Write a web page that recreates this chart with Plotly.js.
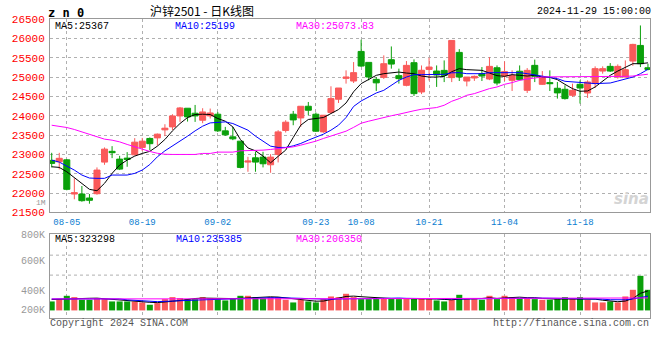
<!DOCTYPE html>
<html><head><meta charset="utf-8">
<script src="https://cdn.plot.ly/plotly-3.0.1.min.js"></script>
<style>html,body{margin:0;padding:0;background:#fff}#c{width:660px;height:360px}</style>
</head><body><div id="c"></div>
<script>
// ---- data ----
const dates = ['08-01','08-02','08-05','08-06','08-07','08-08','08-09','08-12','08-13','08-14','08-15','08-16','08-19','08-20','08-21','08-22','08-23','08-26','08-27','08-28','08-29','08-30',
'09-02','09-03','09-04','09-05','09-06','09-09','09-10','09-11','09-12','09-13','09-18','09-19','09-20','09-23','09-24','09-25','09-26','09-27','09-30',
'10-08','10-09','10-10','10-11','10-14','10-15','10-16','10-17','10-18','10-21','10-22','10-23','10-24','10-25','10-28','10-29','10-30','10-31',
'11-01','11-04','11-05','11-06','11-07','11-08','11-11','11-12','11-13','11-14','11-15','11-18','11-19','11-20','11-21','11-22','11-25','11-26','11-27','11-28','11-29'];

const open  = [22846,22810,22861,21977,21977,21874,21985,22802,23080,22879,22905,22990,23181,23413,23428,23635,23712,23995,24194,24065,23884,23995,24039,23609,23454,23343,22802,22913,22931,22733,23000,23619,24039,23944,24245,24039,23583,24083,24426,24966,24897,25662,25379,24940,24992,25448,25036,24786,25371,24614,25198,25155,25172,24985,25637,24897,24975,25087,24949,25240,25026,24915,25150,24657,25302,24812,24856,24710,24683,24528,24812,24588,24830,25155,25276,25000,25000,25413,25817,25240];
const high  = [23042,23042,22882,22382,22184,21977,22665,23181,23214,22964,23060,23421,23428,23440,23540,23781,24039,24227,24194,24279,24194,24186,24098,23712,23712,23343,22939,23068,23068,23008,23627,23884,24124,24245,24356,24083,24013,24761,24717,25173,25387,25964,25379,25000,25560,25791,25217,25413,25456,25300,25500,25300,25430,25946,25722,25000,25040,25258,25516,25300,25405,25173,25300,25232,25450,25155,25173,24872,24786,24830,24915,24915,25276,25276,25361,25327,25430,25860,26333,25345];
const low   = [22665,22614,22073,21841,21779,21727,21959,22732,22905,22596,22681,22975,23086,23110,23230,23472,23627,23841,23850,23841,23807,23928,23580,23480,23369,22640,22552,22552,22665,22526,22794,23567,23755,23712,24013,23580,23560,24057,24330,24830,24846,25258,24915,24640,24950,25217,24830,24760,24512,24560,24910,24745,24870,24870,24897,24760,24900,24897,24920,24786,24897,24640,24915,24588,24870,24800,24640,24443,24418,24485,24315,24459,24720,25087,25130,24960,24990,25290,25258,25173];
const close = [22769,22900,22098,22011,21805,21815,22596,23137,23045,22621,22872,23317,23343,23278,23524,23678,23995,24201,23970,23995,24098,24072,23609,23506,23403,22665,22828,22802,22759,22931,23583,23833,23892,24245,24142,23601,24013,24443,24717,25000,25114,25284,25000,24850,25345,25335,24959,25302,24572,25175,25258,25052,25044,25946,25000,25000,25018,25026,25276,24846,25140,25044,24933,25173,25018,24985,24830,24590,24443,24657,24717,24872,25217,25217,25155,25276,25190,25843,25345,25198];

const ma5  = [22681,22665,22552,22408,22253,22098,22062,22253,22511,22725,22854,22957,23026,23080,23214,23387,23609,23799,23954,24031,24039,24031,23928,23859,23712,23387,23168,23093,22957,22784,22950,23111,23438,23756,23903,23928,23954,24057,24160,24330,24620,24830,24941,25044,25087,25113,25129,25103,25087,25026,25000,25000,25018,25138,25217,25191,25173,25173,25103,25036,25018,25062,25044,25026,25044,25000,24992,24933,24812,24701,24632,24640,24743,24897,25044,25155,25258,25345,25345,25367];
const ma10 = [22854,22802,22699,22596,22467,22390,22382,22382,22467,22467,22467,22511,22596,22740,22939,23093,23214,23351,23472,23609,23730,23815,23833,23841,23799,23712,23627,23472,23343,23214,23181,23181,23222,23284,23369,23438,23524,23627,23756,23954,24240,24382,24485,24588,24657,24786,24915,25000,25062,25062,25070,25070,25070,25110,25113,25087,25087,25087,25113,25113,25113,25113,25113,25087,25052,25026,25000,24959,24890,24872,24846,24846,24830,24830,24846,24897,24941,25000,25087,25199];
const ma30 = [23755,23730,23696,23645,23583,23524,23454,23395,23369,23325,23258,23196,23129,23077,23030,23005,23000,23000,23000,23000,23026,23026,23060,23060,23060,23094,23094,23103,23111,23129,23145,23163,23196,23240,23284,23343,23413,23472,23541,23601,23700,23807,23859,23910,23962,24000,24039,24090,24129,24168,24186,24212,24271,24374,24443,24529,24572,24640,24701,24743,24812,24856,24915,24949,24975,25000,25005,25005,25005,25005,25005,25005,25005,25005,25005,25010,25018,25026,25044,25073.83];

const volume = [148500,192500,242000,220000,176000,176000,203500,187000,148500,148500,148500,148500,132000,93500,121000,187000,220000,203500,187000,187000,220000,203500,187000,165000,203500,242000,242000,220000,203500,220000,220000,176000,132000,176000,148500,132000,187000,231000,220000,275000,220000,187000,187000,203500,203500,203500,187000,187000,203500,203500,187000,165000,148500,176000,258500,187000,187000,176000,242000,187000,242000,220000,203500,203500,187000,176000,176000,187000,220000,187000,220000,176000,132000,132000,148500,132000,231000,341000,572000,341000];
const volMa5  = [180000,185000,195000,200000,196000,201000,203000,192000,178000,173000,167000,156000,145000,134000,129000,136000,151000,165000,184000,197000,204000,200000,197000,193000,196000,200000,208000,215000,222000,225000,221000,208000,190000,185000,170000,153000,155000,175000,204000,231000,237000,227000,218000,204000,198000,197000,197000,197000,197000,197000,194000,189000,182000,176000,187000,187000,191000,197000,210000,198000,207000,213000,219000,211000,211000,198000,189000,186000,189000,189000,198000,198000,187000,169000,162000,144000,155000,197000,283000,323298];
const volMa10 = [190000,190000,190000,190000,190000,190000,190000,190000,190000,190000,175000,165000,158000,150000,145000,150000,158000,163000,170000,170000,175000,180000,185000,190000,197000,202000,205000,208000,210000,210000,210000,210000,205000,200000,195000,190000,185000,185000,190000,195000,195000,195000,195000,200000,205000,210000,205000,200000,197000,197000,195000,193000,189000,186000,190000,191000,190000,189000,190000,197000,197000,200000,203000,206000,204000,204000,202000,200000,198000,200000,203000,200000,192000,186000,177000,171000,176000,190000,218000,235385];
const volMa30 = [190000,190000,190000,190000,189000,189000,189000,188000,188000,187000,186000,185000,184000,183000,182000,182000,182000,182000,183000,183000,184000,185000,185000,186000,187000,188000,189000,190000,190000,191000,191000,191000,190000,190000,189000,189000,189000,190000,191000,192000,193000,193000,194000,194000,195000,195000,195000,195000,195000,196000,196000,196000,195000,195000,196000,196000,196000,196000,197000,197000,198000,198000,199000,199000,199000,199000,199000,199000,199000,200000,200000,200000,199000,198000,198000,197000,198000,200000,204000,206350];

const dateTicks  = ['08-05','08-19','09-02','09-23','10-08','10-21','11-04','11-18'];
const priceTicks = [21500,22000,22500,23000,23500,24000,24500,25000,25500,26000,26500];
const volTickText = ['800K','600K','400K','200K'];
const volTickVals = [1260600,825000,330000,11550];
const volGridVals = [914100,584100];

// ---- styling ----
const RED = '#fa5a5a', GREEN = '#0aa00a', GRID = '#b0b0b0', BORDER = '#999999';
const MONO = 'Liberation Mono, DejaVu Sans Mono, monospace';
const M = {l:50, r:10, t:18.5, b:41.7};
const W = 660, H = 360, PW = W - M.l - M.r, PH = H - M.t - M.b;
const px = v => (v - M.l) / PW;
const py = v => (H - M.b - v) / PH;

const volColors = close.map((c, i) => c >= open[i] ? RED : GREEN);

const traces = [
  {type:'candlestick', x:dates, open:open, high:high, low:low, close:close, xaxis:'x', yaxis:'y',
   increasing:{line:{color:RED, width:1}, fillcolor:RED},
   decreasing:{line:{color:GREEN, width:1}, fillcolor:GREEN},
   whiskerwidth:0, hoverinfo:'skip', showlegend:false},
  {type:'scatter', mode:'lines', x:dates, y:ma5, line:{color:'#000000', width:1}, xaxis:'x', yaxis:'y', hoverinfo:'skip', showlegend:false},
  {type:'scatter', mode:'lines', x:dates, y:ma10, line:{color:'#0000ff', width:1}, xaxis:'x', yaxis:'y', hoverinfo:'skip', showlegend:false},
  {type:'scatter', mode:'lines', x:dates, y:ma30, line:{color:'#ff00ff', width:1}, xaxis:'x', yaxis:'y', hoverinfo:'skip', showlegend:false},
  {type:'bar', x:dates, y:volume, marker:{color:volColors, line:{width:0}}, width:0.8, xaxis:'x2', yaxis:'y2', hoverinfo:'skip', showlegend:false},
  {type:'scatter', mode:'lines', x:dates, y:volMa5, line:{color:'#000000', width:1}, xaxis:'x2', yaxis:'y2', hoverinfo:'skip', showlegend:false},
  {type:'scatter', mode:'lines', x:dates, y:volMa10, line:{color:'#0000ff', width:1}, xaxis:'x2', yaxis:'y2', hoverinfo:'skip', showlegend:false},
  {type:'scatter', mode:'lines', x:dates, y:volMa30, line:{color:'#ff00ff', width:1}, xaxis:'x2', yaxis:'y2', hoverinfo:'skip', showlegend:false}
];

const xr = [-0.225, 79.27];
const priceDomTop = 1, priceDomBot = py(212.5), volDomTop = py(234.3);

const ann = (text, x, y, xa, color, size, extra) => Object.assign({
  text:text, xref:'paper', yref:'paper', x:px(x), y:py(y), xanchor:xa, yanchor:'middle',
  showarrow:false, font:{family:MONO, size:size, color:color}, borderpad:0
}, extra || {});

const layout = {
  width:W, height:H, margin:M, paper_bgcolor:'#ffffff', plot_bgcolor:'#ffffff',
  showlegend:false, boxgap:0.2, boxgroupgap:0, bargap:0.2,
  xaxis:{type:'category', range:xr, domain:[0,1], anchor:'y', rangeslider:{visible:false},
    tickmode:'array', tickvals:dateTicks, ticktext:dateTicks, ticks:'', ticklabelstandoff:1,
    tickfont:{family:MONO, size:9, color:'#0a7cd0'},
    showgrid:true, gridcolor:GRID, griddash:'dot', gridwidth:1,
    showline:true, mirror:true, linecolor:BORDER, linewidth:1, zeroline:false, fixedrange:true},
  yaxis:{range:[21500,26500], domain:[priceDomBot, priceDomTop], anchor:'x',
    tickmode:'array', tickvals:priceTicks, ticktext:priceTicks.map(String), ticks:'', ticklabelstandoff:2,
    tickfont:{family:MONO, size:11, color:'#ff0000'},
    showgrid:true, gridcolor:GRID, griddash:'dot', gridwidth:1,
    showline:true, mirror:true, linecolor:BORDER, linewidth:1, zeroline:false, fixedrange:true},
  xaxis2:{type:'category', range:xr, domain:[0,1], anchor:'y2', matches:'x',
    tickmode:'array', tickvals:dateTicks, showticklabels:false, ticks:'',
    showgrid:true, gridcolor:GRID, griddash:'dot', gridwidth:1,
    showline:true, mirror:true, linecolor:BORDER, linewidth:1, zeroline:false, fixedrange:true},
  yaxis2:{range:[-125400,1260600], domain:[0, volDomTop], anchor:'x2',
    tickmode:'array', tickvals:volTickVals, ticktext:volTickText, ticks:'', ticklabelstandoff:2,
    tickfont:{family:MONO, size:10, color:'#999999'},
    showgrid:false, showline:true, mirror:true, linecolor:BORDER, linewidth:1, zeroline:false, fixedrange:true},
  shapes: volGridVals.map(v => ({type:'line', xref:'x2 domain', x0:0, x1:1, yref:'y2', y0:v, y1:v,
    line:{color:GRID, width:1, dash:'dot'}, layer:'below'})),
  annotations:[
    ann('z n 0', 47, 12, 'left', '#000000', 12, {font:{family:'DejaVu Sans Mono', size:12, color:'#000', weight:'bold'}}),
    ann('沪锌2501 - 日K线图', 202, 10, 'center', '#000000', 12, {font:{family:'Noto Sans CJK SC', size:12, color:'#000'}}),
    ann('2024-11-29 15:00:00', 652, 11, 'right', '#000000', 10),
    ann('MA5:25367', 54, 26, 'left', '#000000', 10),
    ann('MA10:25199', 174, 26, 'left', '#0000ff', 10),
    ann('MA30:25073.83', 295, 26, 'left', '#ff00ff', 10),
    ann('MA5:323298', 54, 239.5, 'left', '#000000', 10),
    ann('MA10:235385', 175, 239.5, 'left', '#0000ff', 10),
    ann('MA30:206350', 295, 239.5, 'left', '#ff00ff', 10),
    ann('1M', 47, 202.5, 'right', '#999999', 8),
    ann('Copyright 2024 SINA.COM', 49, 324, 'left', '#555555', 10),
    ann('http://finance.sina.com.cn', 650, 324, 'right', '#555555', 10),
    ann('sina', 650, 199, 'right', '#d0d0d0', 15, {font:{family:'DejaVu Sans', size:15, color:'#d4d4d4', weight:'bold', style:'italic'}})
  ]
};

Plotly.newPlot('c', traces, layout, {staticPlot:true, displayModeBar:false});
</script></body></html>
